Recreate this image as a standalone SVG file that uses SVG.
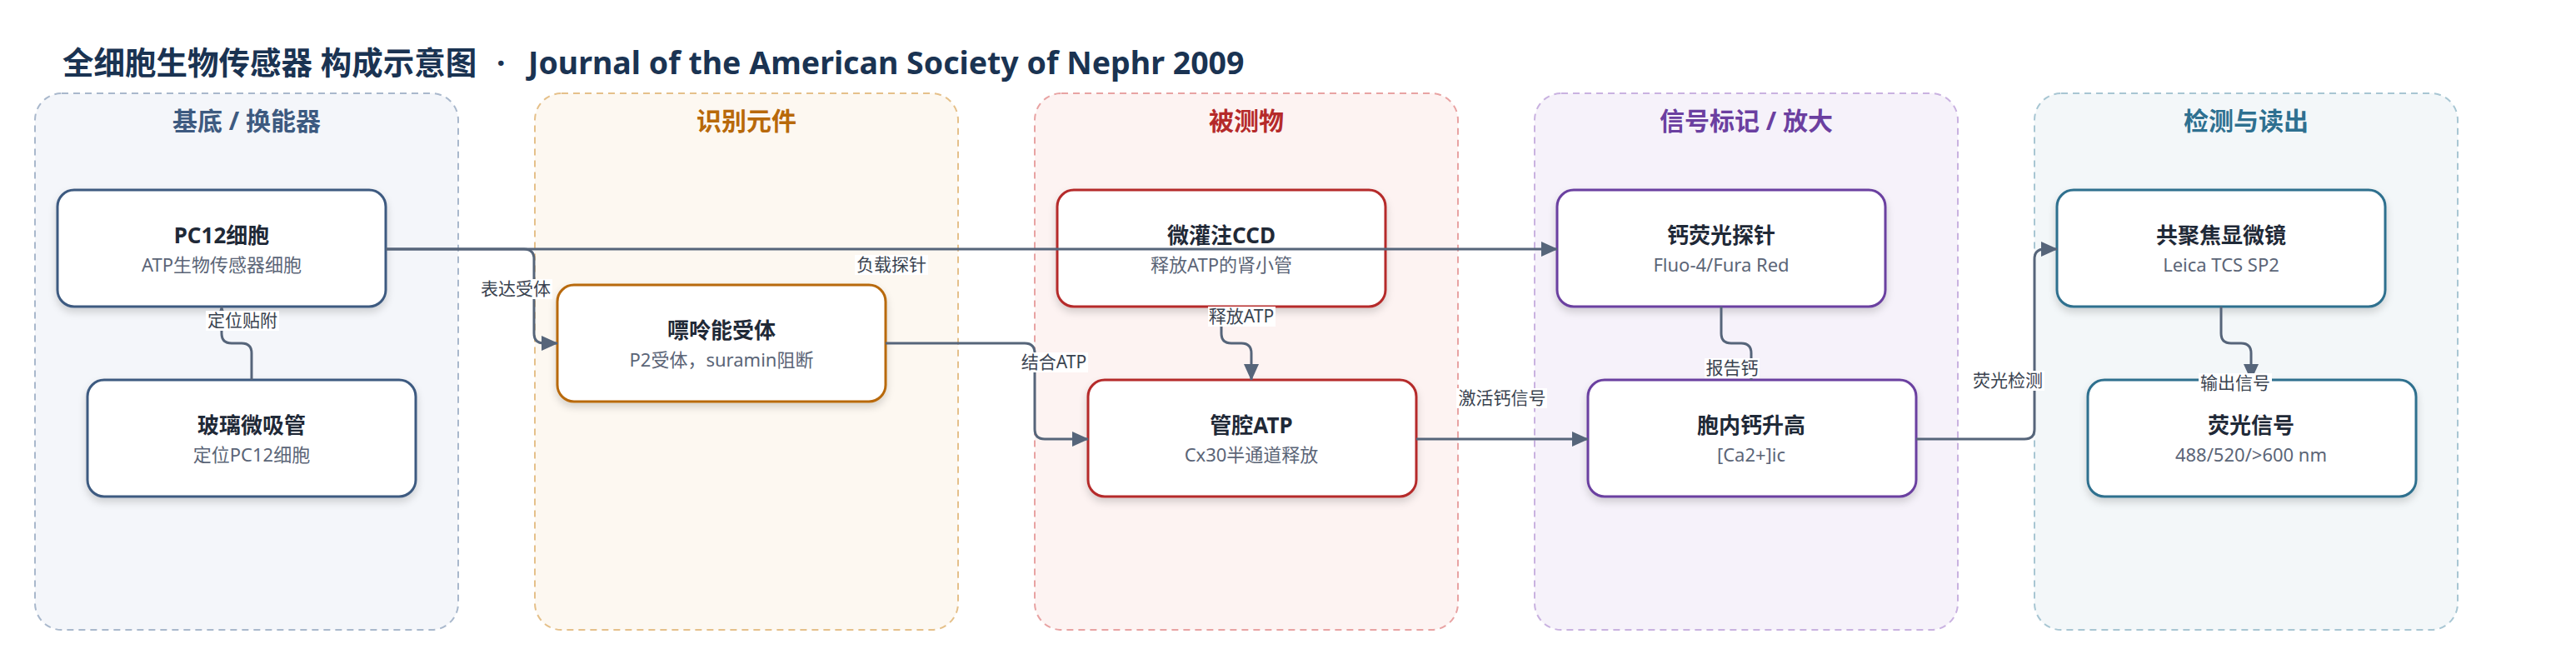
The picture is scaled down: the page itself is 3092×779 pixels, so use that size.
<svg xmlns="http://www.w3.org/2000/svg" width="3092" height="779" viewBox="0 0 3092 779">
<defs>
<style>
text{font-family:"Noto Sans","Noto Sans CJK SC",sans-serif}
.title{font-size:37.5px;font-weight:700;fill:#1a3352}
.gt{font-size:30px;font-weight:700;text-anchor:middle}
.grp{stroke-width:2;stroke-dasharray:8 6}
.node{fill:#fff;stroke-width:3;filter:url(#sh)}
.nt{font-size:26px;font-weight:700;fill:#1f2937;text-anchor:middle}
.ns{font-size:22px;fill:#5b6577;text-anchor:middle}
.edge{fill:none;stroke:#56657a;stroke-width:3}
.arr{marker-end:url(#ah)}
.lb{fill:#fff}
.lt{font-size:21px;fill:#3a4350;text-anchor:middle}
</style>
<filter id="sh" x="-10%" y="-20%" width="120%" height="150%">
<feDropShadow dx="0" dy="5" stdDeviation="5" flood-color="#000" flood-opacity="0.16"/>
</filter>
<marker id="ah" markerUnits="userSpaceOnUse" markerWidth="20" markerHeight="18" refX="19" refY="9" orient="auto">
<path d="M0,0 L20,9 L0,18 z" fill="#56657a"/>
</marker>
</defs>
<rect width="3092" height="779" fill="#fff"/>
<text class="title" x="75" y="89">全细胞生物传感器 构成示意图<tspan x="596">·</tspan><tspan x="634">Journal of the American Society of Nephr 2009</tspan></text>

<g id="group-substrate">
<rect class="grp" x="42" y="112" width="508" height="644" rx="32" fill="#f4f6fa" stroke="#a9b8cc"/>
<text class="gt" x="296" y="156" fill="#3d5a80">基底 / 换能器</text>
</g>
<g id="group-recognition">
<rect class="grp" x="642" y="112" width="508" height="644" rx="32" fill="#fdf8f1" stroke="#e5c08a"/>
<text class="gt" x="896" y="156" fill="#b8690a">识别元件</text>
</g>
<g id="group-analyte">
<rect class="grp" x="1242" y="112" width="508" height="644" rx="32" fill="#fdf3f2" stroke="#e8a3a3"/>
<text class="gt" x="1496" y="156" fill="#b52a2a">被测物</text>
</g>
<g id="group-signal">
<rect class="grp" x="1842" y="112" width="508" height="644" rx="32" fill="#f6f2fa" stroke="#c9b2e0"/>
<text class="gt" x="2096" y="156" fill="#6b3fa0">信号标记 / 放大</text>
</g>
<g id="group-readout">
<rect class="grp" x="2442" y="112" width="508" height="644" rx="32" fill="#f3f7f9" stroke="#a8c6d3"/>
<text class="gt" x="2696" y="156" fill="#2e7090">检测与读出</text>
</g>

<g id="node-pc12">
<rect class="node" x="69" y="228" width="394" height="140" rx="20" stroke="#3d5a80"/>
<text class="nt" x="266" y="292">PC12细胞</text>
<text class="ns" x="266" y="326">ATP生物传感器细胞</text>
</g>
<g id="node-pipette">
<rect class="node" x="105" y="456" width="394" height="140" rx="20" stroke="#3d5a80"/>
<text class="nt" x="302" y="520">玻璃微吸管</text>
<text class="ns" x="302" y="554">定位PC12细胞</text>
</g>
<g id="node-p2">
<rect class="node" x="669" y="342" width="394" height="140" rx="20" stroke="#b8690a"/>
<text class="nt" x="866" y="406">嘌呤能受体</text>
<text class="ns" x="866" y="440">P2受体，suramin阻断</text>
</g>
<g id="node-ccd">
<rect class="node" x="1269" y="228" width="394" height="140" rx="20" stroke="#b52a2a"/>
<text class="nt" x="1466" y="292">微灌注CCD</text>
<text class="ns" x="1466" y="326">释放ATP的肾小管</text>
</g>
<g id="node-atp">
<rect class="node" x="1306" y="456" width="394" height="140" rx="20" stroke="#b52a2a"/>
<text class="nt" x="1502" y="520">管腔ATP</text>
<text class="ns" x="1502" y="554">Cx30半通道释放</text>
</g>
<g id="node-probe">
<rect class="node" x="1869" y="228" width="394" height="140" rx="20" stroke="#6b3fa0"/>
<text class="nt" x="2066" y="292">钙荧光探针</text>
<text class="ns" x="2066" y="326">Fluo-4/Fura Red</text>
</g>
<g id="node-ca">
<rect class="node" x="1906" y="456" width="394" height="140" rx="20" stroke="#6b3fa0"/>
<text class="nt" x="2102" y="520">胞内钙升高</text>
<text class="ns" x="2102" y="554">[Ca2+]ic</text>
</g>
<g id="node-confocal">
<rect class="node" x="2469" y="228" width="394" height="140" rx="20" stroke="#2e6f8e"/>
<text class="nt" x="2666" y="292">共聚焦显微镜</text>
<text class="ns" x="2666" y="326">Leica TCS SP2</text>
</g>
<g id="node-fluor">
<rect class="node" x="2506" y="456" width="394" height="140" rx="20" stroke="#2e6f8e"/>
<text class="nt" x="2702" y="520">荧光信号</text>
<text class="ns" x="2702" y="554">488/520/&gt;600 nm</text>
</g>

<g id="connectors">
<path class="edge arr" d="M302,456 V424 Q302,412 290,412 H278 Q266,412 266,400 V368"/>
<path class="edge arr" d="M463,299 H1869"/>
<path class="edge arr" d="M463,299 H629 Q641,299 641,311 V400 Q641,412 653,412 H669"/>
<path class="edge arr" d="M1063,412 H1230 Q1242,412 1242,424 V515 Q1242,527 1254,527 H1306"/>
<path class="edge arr" d="M1466,368 V400 Q1466,412 1478,412 H1490 Q1502,412 1502,424 V456"/>
<path class="edge arr" d="M1700,527 H1906"/>
<path class="edge arr" d="M2066,368 V400 Q2066,412 2078,412 H2090 Q2102,412 2102,424 V456"/>
<path class="edge arr" d="M2300,527 H2430 Q2442,527 2442,515 V311 Q2442,299 2454,299 H2469"/>
<path class="edge arr" d="M2666,368 V400 Q2666,412 2678,412 H2690 Q2702,412 2702,424 V456"/>
<g id="labels">
<rect class="lb" x="247" y="373" width="88" height="24"/><text class="lt" x="291" y="392">定位贴附</text>
<rect class="lb" x="575" y="335" width="88" height="24"/><text class="lt" x="619" y="354">表达受体</text>
<rect class="lb" x="1026" y="306" width="88" height="24"/><text class="lt" x="1070" y="325">负载探针</text>
<rect class="lb" x="1224" y="423" width="82" height="24"/><text class="lt" x="1265" y="442">结合ATP</text>
<rect class="lb" x="1450" y="368" width="81" height="24"/><text class="lt" x="1490" y="387">释放ATP</text>
<rect class="lb" x="1748" y="466" width="109" height="24"/><text class="lt" x="1803" y="485">激活钙信号</text>
<rect class="lb" x="2046" y="430" width="66" height="24"/><text class="lt" x="2079" y="449">报告钙</text>
<rect class="lb" x="2366" y="445" width="88" height="24"/><text class="lt" x="2410" y="464">荧光检测</text>
<rect class="lb" x="2639" y="448" width="88" height="24"/><text class="lt" x="2683" y="467">输出信号</text>
</g>
</g>
</svg>
